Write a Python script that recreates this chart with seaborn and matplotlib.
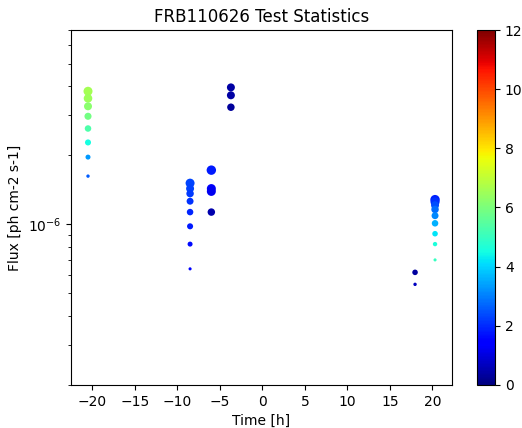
import numpy as np
import pandas as pd
import matplotlib
matplotlib.use("Agg")
import matplotlib.pyplot as plt
import seaborn as sns

# Data
time_h = [-20.5]*8 + [-8.5]*8 + [-6.0]*4 + [-3.7]*3 + [17.95]*2 + [20.3]*9
flux = [3.79e-6, 3.53e-6, 3.26e-6, 2.95e-6, 2.61e-6, 2.27e-6, 1.96e-6, 1.62e-6,
        1.51e-6, 1.43e-6, 1.36e-6, 1.26e-6, 1.13e-6, 0.98e-6, 0.82e-6, 0.64e-6,
        1.72e-6, 1.43e-6, 1.39e-6, 1.13e-6,
        3.94e-6, 3.64e-6, 3.23e-6,
        0.618e-6, 0.548e-6,
        1.28e-6, 1.25e-6, 1.21e-6, 1.16e-6, 1.09e-6, 1.01e-6, 0.91e-6, 0.82e-6, 0.70e-6]
ts = [6.6, 6.5, 6.2, 5.9, 5.3, 4.5, 3.3, 2.6,
      2.3, 2.25, 2.2, 2.1, 1.95, 1.8, 1.6, 1.4,
      1.8, 1.3, 1.2, 0.5,
      0.4, 0.4, 0.3,
      0.35, 0.7,
      1.9, 2.1, 2.4, 2.8, 3.1, 3.6, 4.2, 4.6, 5.0]
marker_size = [42, 38, 33, 26, 22, 19, 13, 6,
               42, 33, 29, 25, 22, 19, 13, 5,
               46, 42, 42, 29,
               33, 33, 29,
               16, 6,
               46, 42, 33, 29, 25, 22, 16, 10, 5]

df = pd.DataFrame({"time": time_h, "flux": flux, "ts": ts, "msize": marker_size})

fig = plt.figure(figsize=(5.22, 4.28), dpi=100)
ax = fig.add_axes([0.136, 0.1005, 0.730, 0.8294])
cax = fig.add_axes([0.914, 0.1005, 0.0345, 0.8294])

jet = matplotlib.colormaps["jet"]
smin, smax = min(marker_size), max(marker_size)
sns.scatterplot(data=df, x="time", y="flux", hue="ts", palette=jet,
                hue_norm=(0, 12), size="msize", sizes=(smin, smax),
                size_norm=(smin, smax), linewidth=0, legend=False, ax=ax)

ax.set_yscale("log")
ax.set_ylim(2.0e-7, 7.0e-6)
ax.set_xlim(-22.5, 22.3)
ax.set_xticks([-20, -15, -10, -5, 0, 5, 10, 15, 20])
ax.set_xlabel("Time [h]")
ax.set_ylabel("Flux [ph cm-2 s-1]")
ax.set_title("FRB110626 Test Statistics", fontsize=12)

sm = matplotlib.cm.ScalarMappable(norm=matplotlib.colors.Normalize(0, 12), cmap=jet)
cb = fig.colorbar(sm, cax=cax)
cb.set_ticks([0, 2, 4, 6, 8, 10, 12])

fig.savefig("out.png", dpi=100)
